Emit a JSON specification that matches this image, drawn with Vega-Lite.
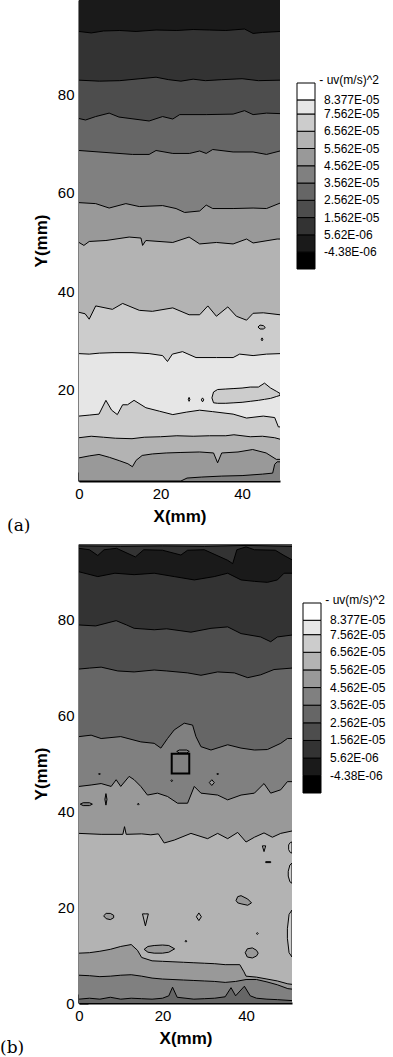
{
"$schema": "https://vega.github.io/schema/vega-lite/v6.json",
"padding": {"left": 0, "top": 0, "right": 0, "bottom": 0},
"spacing": 6,
"config": {
  "view": {"stroke": null},
  "font": "Liberation Sans",
  "axis": {"labelFont": "Liberation Sans", "labelFontSize": 15, "labelColor": "black", "titleFont": "Liberation Sans", "titleFontSize": 17, "titleFontWeight": "bold", "titleColor": "black", "domainColor": "black", "domainWidth": 2, "tickColor": "black", "grid": false}
},
"resolve": {"scale": {"color": "independent"}, "legend": {"color": "independent"}},
"datasets": {
"ca": [
{"c":"c00","x":0,"y":0,"uv":4.062e-5},{"c":"c00","x":49.3,"y":0,"uv":4.062e-5},
{"c":"c01","x":0,"y":1.4,"uv":5.062e-5},{"c":"c01","x":25,"y":1.4,"uv":5.062e-5},{"c":"c01","x":26.5,"y":2.0,"uv":5.062e-5},{"c":"c01","x":30,"y":2.2,"uv":5.062e-5},{"c":"c01","x":35,"y":2.4,"uv":5.062e-5},{"c":"c01","x":40,"y":2.5,"uv":5.062e-5},{"c":"c01","x":45,"y":2.8,"uv":5.062e-5},{"c":"c01","x":47.5,"y":3.0,"uv":5.062e-5},{"c":"c01","x":48,"y":4.8,"uv":5.062e-5},{"c":"c01","x":48.6,"y":5.3,"uv":5.062e-5},{"c":"c01","x":49.3,"y":5.3,"uv":5.062e-5},
{"c":"c02","x":0,"y":6.1,"uv":6.062e-5},{"c":"c02","x":2.5,"y":6.5,"uv":6.062e-5},{"c":"c02","x":4.9,"y":6.8,"uv":6.062e-5},{"c":"c02","x":7.5,"y":6.2,"uv":6.062e-5},{"c":"c02","x":10,"y":5.5,"uv":6.062e-5},{"c":"c02","x":12,"y":4.9,"uv":6.062e-5},{"c":"c02","x":13.1,"y":4.3,"uv":6.062e-5},{"c":"c02","x":14,"y":5.6,"uv":6.062e-5},{"c":"c02","x":15.5,"y":6.6,"uv":6.062e-5},{"c":"c02","x":18,"y":6.9,"uv":6.062e-5},{"c":"c02","x":21.4,"y":7.1,"uv":6.062e-5},{"c":"c02","x":25,"y":7.2,"uv":6.062e-5},{"c":"c02","x":29.6,"y":7.3,"uv":6.062e-5},{"c":"c02","x":33,"y":7.1,"uv":6.062e-5},{"c":"c02","x":34,"y":5.1,"uv":6.062e-5},{"c":"c02","x":35,"y":7.1,"uv":6.062e-5},{"c":"c02","x":39,"y":7.3,"uv":6.062e-5},{"c":"c02","x":42.6,"y":7.8,"uv":6.062e-5},{"c":"c02","x":45.9,"y":7.1,"uv":6.062e-5},{"c":"c02","x":48.4,"y":5.8,"uv":6.062e-5},{"c":"c02","x":49.3,"y":5.8,"uv":6.062e-5},
{"c":"c03","x":0,"y":10.2,"uv":7.062e-5},{"c":"c03","x":3,"y":10.5,"uv":7.062e-5},{"c":"c03","x":6,"y":10.3,"uv":7.062e-5},{"c":"c03","x":8.9,"y":10.1,"uv":7.062e-5},{"c":"c03","x":13,"y":10.0,"uv":7.062e-5},{"c":"c03","x":16,"y":10.3,"uv":7.062e-5},{"c":"c03","x":20,"y":10.4,"uv":7.062e-5},{"c":"c03","x":24,"y":10.6,"uv":7.062e-5},{"c":"c03","x":28,"y":10.5,"uv":7.062e-5},{"c":"c03","x":32,"y":10.6,"uv":7.062e-5},{"c":"c03","x":36,"y":10.6,"uv":7.062e-5},{"c":"c03","x":38,"y":10.8,"uv":7.062e-5},{"c":"c03","x":42,"y":10.4,"uv":7.062e-5},{"c":"c03","x":45,"y":10.5,"uv":7.062e-5},{"c":"c03","x":48,"y":10.2,"uv":7.062e-5},{"c":"c03","x":49.3,"y":9.9,"uv":7.062e-5},
{"c":"c04","x":0,"y":14.6,"uv":8.0e-5},{"c":"c04","x":2.5,"y":14.8,"uv":8.0e-5},{"c":"c04","x":4.9,"y":15.0,"uv":8.0e-5},{"c":"c04","x":6.6,"y":17.8,"uv":8.0e-5},{"c":"c04","x":8.0,"y":15.8,"uv":8.0e-5},{"c":"c04","x":9.4,"y":14.9,"uv":8.0e-5},{"c":"c04","x":10.7,"y":16.9,"uv":8.0e-5},{"c":"c04","x":11.9,"y":16.9,"uv":8.0e-5},{"c":"c04","x":13.5,"y":17.8,"uv":8.0e-5},{"c":"c04","x":16.4,"y":16.3,"uv":8.0e-5},{"c":"c04","x":19.7,"y":15.6,"uv":8.0e-5},{"c":"c04","x":23,"y":14.9,"uv":8.0e-5},{"c":"c04","x":26.3,"y":15.4,"uv":8.0e-5},{"c":"c04","x":29.6,"y":15.8,"uv":8.0e-5},{"c":"c04","x":32.8,"y":15.5,"uv":8.0e-5},{"c":"c04","x":37.8,"y":15.0,"uv":8.0e-5},{"c":"c04","x":41.1,"y":14.2,"uv":8.0e-5},{"c":"c04","x":45.2,"y":14.6,"uv":8.0e-5},{"c":"c04","x":48,"y":14.3,"uv":8.0e-5},{"c":"c04","x":48.9,"y":12.4,"uv":8.0e-5},{"c":"c04","x":49.3,"y":12.4,"uv":8.0e-5},
{"c":"c05","x":0,"y":27.3,"uv":7.062e-5},{"c":"c05","x":2.5,"y":27.2,"uv":7.062e-5},{"c":"c05","x":5,"y":27.4,"uv":7.062e-5},{"c":"c05","x":8.6,"y":27.5,"uv":7.062e-5},{"c":"c05","x":13,"y":27.5,"uv":7.062e-5},{"c":"c05","x":17.2,"y":27.3,"uv":7.062e-5},{"c":"c05","x":20.5,"y":26.9,"uv":7.062e-5},{"c":"c05","x":21.7,"y":25.7,"uv":7.062e-5},{"c":"c05","x":22.9,"y":27.2,"uv":7.062e-5},{"c":"c05","x":25.4,"y":27.7,"uv":7.062e-5},{"c":"c05","x":28.7,"y":26.5,"uv":7.062e-5},{"c":"c05","x":33.7,"y":26.5,"uv":7.062e-5},{"c":"c05","x":37.8,"y":26.5,"uv":7.062e-5},{"c":"c05","x":39.4,"y":27.2,"uv":7.062e-5},{"c":"c05","x":42.7,"y":26.9,"uv":7.062e-5},{"c":"c05","x":46,"y":27.2,"uv":7.062e-5},{"c":"c05","x":49.3,"y":27.3,"uv":7.062e-5},
{"c":"c06","x":0,"y":35.7,"uv":6.062e-5},{"c":"c06","x":1.5,"y":35.4,"uv":6.062e-5},{"c":"c06","x":2.5,"y":34.3,"uv":6.062e-5},{"c":"c06","x":4.1,"y":37.0,"uv":6.062e-5},{"c":"c06","x":8.2,"y":36.3,"uv":6.062e-5},{"c":"c06","x":10.7,"y":37.5,"uv":6.062e-5},{"c":"c06","x":14.8,"y":36.1,"uv":6.062e-5},{"c":"c06","x":18,"y":35.9,"uv":6.062e-5},{"c":"c06","x":23,"y":36.6,"uv":6.062e-5},{"c":"c06","x":27,"y":35.2,"uv":6.062e-5},{"c":"c06","x":29.6,"y":35.2,"uv":6.062e-5},{"c":"c06","x":31.6,"y":37.0,"uv":6.062e-5},{"c":"c06","x":33.7,"y":34.9,"uv":6.062e-5},{"c":"c06","x":36.5,"y":36.8,"uv":6.062e-5},{"c":"c06","x":38.6,"y":34.9,"uv":6.062e-5},{"c":"c06","x":41.1,"y":34.1,"uv":6.062e-5},{"c":"c06","x":42.7,"y":35.5,"uv":6.062e-5},{"c":"c06","x":45.2,"y":35.6,"uv":6.062e-5},{"c":"c06","x":49.3,"y":35.2,"uv":6.062e-5},
{"c":"c07","x":0,"y":49.9,"uv":5.062e-5},{"c":"c07","x":1.2,"y":49.3,"uv":5.062e-5},{"c":"c07","x":2.5,"y":50.1,"uv":5.062e-5},{"c":"c07","x":6.6,"y":50.3,"uv":5.062e-5},{"c":"c07","x":12.3,"y":51.0,"uv":5.062e-5},{"c":"c07","x":15.2,"y":50.8,"uv":5.062e-5},{"c":"c07","x":15.6,"y":49.3,"uv":5.062e-5},{"c":"c07","x":16.4,"y":50.3,"uv":5.062e-5},{"c":"c07","x":23,"y":49.9,"uv":5.062e-5},{"c":"c07","x":27,"y":51.0,"uv":5.062e-5},{"c":"c07","x":29.6,"y":49.6,"uv":5.062e-5},{"c":"c07","x":33.7,"y":49.9,"uv":5.062e-5},{"c":"c07","x":37.8,"y":49.6,"uv":5.062e-5},{"c":"c07","x":41.1,"y":50.6,"uv":5.062e-5},{"c":"c07","x":42.7,"y":49.8,"uv":5.062e-5},{"c":"c07","x":48.6,"y":50.6,"uv":5.062e-5},{"c":"c07","x":49.3,"y":50.6,"uv":5.062e-5},
{"c":"c08","x":0,"y":58.0,"uv":4.062e-5},{"c":"c08","x":4.1,"y":57.8,"uv":4.062e-5},{"c":"c08","x":7.4,"y":56.9,"uv":4.062e-5},{"c":"c08","x":11.5,"y":57.8,"uv":4.062e-5},{"c":"c08","x":14.8,"y":57.2,"uv":4.062e-5},{"c":"c08","x":20.5,"y":57.4,"uv":4.062e-5},{"c":"c08","x":23.8,"y":56.8,"uv":4.062e-5},{"c":"c08","x":25.9,"y":56.0,"uv":4.062e-5},{"c":"c08","x":29.6,"y":56.3,"uv":4.062e-5},{"c":"c08","x":31.2,"y":57.5,"uv":4.062e-5},{"c":"c08","x":32.8,"y":56.8,"uv":4.062e-5},{"c":"c08","x":37.8,"y":56.8,"uv":4.062e-5},{"c":"c08","x":42.7,"y":56.9,"uv":4.062e-5},{"c":"c08","x":46,"y":56.8,"uv":4.062e-5},{"c":"c08","x":49.3,"y":57.9,"uv":4.062e-5},
{"c":"c09","x":0,"y":68.6,"uv":3.062e-5},{"c":"c09","x":4.9,"y":68.3,"uv":3.062e-5},{"c":"c09","x":13.1,"y":67.8,"uv":3.062e-5},{"c":"c09","x":17.2,"y":67.8,"uv":3.062e-5},{"c":"c09","x":18.9,"y":68.6,"uv":3.062e-5},{"c":"c09","x":23,"y":68.0,"uv":3.062e-5},{"c":"c09","x":27.1,"y":68.0,"uv":3.062e-5},{"c":"c09","x":29.6,"y":68.5,"uv":3.062e-5},{"c":"c09","x":31.2,"y":68.0,"uv":3.062e-5},{"c":"c09","x":32.8,"y":68.8,"uv":3.062e-5},{"c":"c09","x":37.8,"y":68.3,"uv":3.062e-5},{"c":"c09","x":42.7,"y":68.3,"uv":3.062e-5},{"c":"c09","x":46,"y":67.8,"uv":3.062e-5},{"c":"c09","x":49.3,"y":68.5,"uv":3.062e-5},
{"c":"c10","x":0,"y":75.1,"uv":2.062e-5},{"c":"c10","x":1.6,"y":74.8,"uv":2.062e-5},{"c":"c10","x":4.1,"y":75.5,"uv":2.062e-5},{"c":"c10","x":7.4,"y":76.2,"uv":2.062e-5},{"c":"c10","x":9.8,"y":75.4,"uv":2.062e-5},{"c":"c10","x":17.2,"y":74.6,"uv":2.062e-5},{"c":"c10","x":20.5,"y":75.5,"uv":2.062e-5},{"c":"c10","x":23,"y":75.0,"uv":2.062e-5},{"c":"c10","x":24.7,"y":75.9,"uv":2.062e-5},{"c":"c10","x":31.2,"y":75.9,"uv":2.062e-5},{"c":"c10","x":37.8,"y":76.0,"uv":2.062e-5},{"c":"c10","x":40.6,"y":76.7,"uv":2.062e-5},{"c":"c10","x":42.7,"y":75.9,"uv":2.062e-5},{"c":"c10","x":46,"y":76.2,"uv":2.062e-5},{"c":"c10","x":49.3,"y":76.1,"uv":2.062e-5},
{"c":"c11","x":0,"y":82.9,"uv":1.062e-5},{"c":"c11","x":5,"y":82.7,"uv":1.062e-5},{"c":"c11","x":10,"y":82.8,"uv":1.062e-5},{"c":"c11","x":15,"y":83.2,"uv":1.062e-5},{"c":"c11","x":18.9,"y":83.5,"uv":1.062e-5},{"c":"c11","x":22,"y":83.0,"uv":1.062e-5},{"c":"c11","x":25,"y":82.7,"uv":1.062e-5},{"c":"c11","x":28,"y":83.1,"uv":1.062e-5},{"c":"c11","x":31,"y":82.8,"uv":1.062e-5},{"c":"c11","x":35,"y":83.0,"uv":1.062e-5},{"c":"c11","x":40,"y":83.2,"uv":1.062e-5},{"c":"c11","x":44,"y":82.8,"uv":1.062e-5},{"c":"c11","x":49.3,"y":82.9,"uv":1.062e-5},
{"c":"c12","x":0,"y":92.8,"uv":6.2e-7},{"c":"c12","x":3,"y":92.5,"uv":6.2e-7},{"c":"c12","x":6,"y":92.9,"uv":6.2e-7},{"c":"c12","x":10,"y":93.0,"uv":6.2e-7},{"c":"c12","x":14,"y":92.8,"uv":6.2e-7},{"c":"c12","x":18.9,"y":93.1,"uv":6.2e-7},{"c":"c12","x":24,"y":93.0,"uv":6.2e-7},{"c":"c12","x":28,"y":93.2,"uv":6.2e-7},{"c":"c12","x":32,"y":93.1,"uv":6.2e-7},{"c":"c12","x":36,"y":93.0,"uv":6.2e-7},{"c":"c12","x":40.6,"y":93.3,"uv":6.2e-7},{"c":"c12","x":42.7,"y":92.4,"uv":6.2e-7},{"c":"c12","x":45,"y":92.6,"uv":6.2e-7},{"c":"c12","x":49.3,"y":92.8,"uv":6.2e-7}
],
"ia": [
{"i":"i1","x":32.6,"y":18.3,"y2":18.3,"uv":7.062e-5},{"i":"i1","x":33,"y":17.3,"y2":19.5,"uv":7.062e-5},{"i":"i1","x":34,"y":17.2,"y2":20.0,"uv":7.062e-5},{"i":"i1","x":36,"y":17.2,"y2":20.1,"uv":7.062e-5},{"i":"i1","x":38,"y":17.3,"y2":20.2,"uv":7.062e-5},{"i":"i1","x":40,"y":17.4,"y2":20.3,"uv":7.062e-5},{"i":"i1","x":42,"y":17.6,"y2":20.5,"uv":7.062e-5},{"i":"i1","x":44,"y":17.8,"y2":20.5,"uv":7.062e-5},{"i":"i1","x":45.5,"y":18.0,"y2":21.3,"uv":7.062e-5},{"i":"i1","x":47,"y":18.2,"y2":20.3,"uv":7.062e-5},{"i":"i1","x":48.5,"y":18.6,"y2":19.6,"uv":7.062e-5},{"i":"i1","x":49.3,"y":18.8,"y2":19.2,"uv":7.062e-5},
{"i":"i2","x":43.9,"y":32.7,"y2":32.7,"uv":6.062e-5},{"i":"i2","x":44.4,"y":32.3,"y2":33.1,"uv":6.062e-5},{"i":"i2","x":45.2,"y":32.3,"y2":33.0,"uv":6.062e-5},{"i":"i2","x":45.7,"y":32.6,"y2":32.6,"uv":6.062e-5},
{"i":"i3","x":44.7,"y":30.2,"y2":30.2,"uv":6.062e-5},{"i":"i3","x":44.9,"y":29.9,"y2":30.5,"uv":6.062e-5},{"i":"i3","x":45.1,"y":30.2,"y2":30.2,"uv":6.062e-5},
{"i":"i4","x":26.8,"y":18,"y2":18,"uv":7.062e-5},{"i":"i4","x":27,"y":17.6,"y2":18.4,"uv":7.062e-5},{"i":"i4","x":27.2,"y":18,"y2":18,"uv":7.062e-5},
{"i":"i5","x":30.0,"y":17.9,"y2":17.9,"uv":7.062e-5},{"i":"i5","x":30.3,"y":17.5,"y2":18.3,"uv":7.062e-5},{"i":"i5","x":30.6,"y":17.9,"y2":17.9,"uv":7.062e-5}
],
"cb": [
{"c":"c00","x":0,"y":0,"uv":3.062e-5},{"c":"c00","x":51,"y":0,"uv":3.062e-5},
{"c":"c01","x":0,"y":0.8,"uv":4.062e-5},{"c":"c01","x":2.5,"y":1.0,"uv":4.062e-5},{"c":"c01","x":5,"y":0.8,"uv":4.062e-5},{"c":"c01","x":7.5,"y":1.2,"uv":4.062e-5},{"c":"c01","x":10,"y":0.8,"uv":4.062e-5},{"c":"c01","x":12.5,"y":1.0,"uv":4.062e-5},{"c":"c01","x":15,"y":0.9,"uv":4.062e-5},{"c":"c01","x":17.5,"y":0.8,"uv":4.062e-5},{"c":"c01","x":20,"y":1.0,"uv":4.062e-5},{"c":"c01","x":21.5,"y":1.5,"uv":4.062e-5},{"c":"c01","x":22.4,"y":3.3,"uv":4.062e-5},{"c":"c01","x":23.5,"y":1.2,"uv":4.062e-5},{"c":"c01","x":27.5,"y":0.8,"uv":4.062e-5},{"c":"c01","x":30,"y":0.9,"uv":4.062e-5},{"c":"c01","x":32.5,"y":1.0,"uv":4.062e-5},{"c":"c01","x":35,"y":1.3,"uv":4.062e-5},{"c":"c01","x":36.4,"y":3.2,"uv":4.062e-5},{"c":"c01","x":37.5,"y":1.5,"uv":4.062e-5},{"c":"c01","x":39.6,"y":3.5,"uv":4.062e-5},{"c":"c01","x":41,"y":1.5,"uv":4.062e-5},{"c":"c01","x":42.5,"y":1.0,"uv":4.062e-5},{"c":"c01","x":45,"y":0.8,"uv":4.062e-5},{"c":"c01","x":47.5,"y":0.7,"uv":4.062e-5},{"c":"c01","x":51,"y":0.5,"uv":4.062e-5},
{"c":"c02","x":0,"y":5.8,"uv":5.062e-5},{"c":"c02","x":2.5,"y":5.7,"uv":5.062e-5},{"c":"c02","x":5,"y":5.5,"uv":5.062e-5},{"c":"c02","x":7.5,"y":5.6,"uv":5.062e-5},{"c":"c02","x":10,"y":5.8,"uv":5.062e-5},{"c":"c02","x":12.5,"y":5.9,"uv":5.062e-5},{"c":"c02","x":15,"y":5.6,"uv":5.062e-5},{"c":"c02","x":17.5,"y":5.2,"uv":5.062e-5},{"c":"c02","x":20,"y":5.0,"uv":5.062e-5},{"c":"c02","x":22.5,"y":4.9,"uv":5.062e-5},{"c":"c02","x":25,"y":4.8,"uv":5.062e-5},{"c":"c02","x":27.5,"y":4.7,"uv":5.062e-5},{"c":"c02","x":30,"y":4.6,"uv":5.062e-5},{"c":"c02","x":32.5,"y":4.5,"uv":5.062e-5},{"c":"c02","x":35,"y":4.3,"uv":5.062e-5},{"c":"c02","x":37.5,"y":4.5,"uv":5.062e-5},{"c":"c02","x":40,"y":4.9,"uv":5.062e-5},{"c":"c02","x":42.5,"y":4.9,"uv":5.062e-5},{"c":"c02","x":45,"y":4.4,"uv":5.062e-5},{"c":"c02","x":47.5,"y":3.8,"uv":5.062e-5},{"c":"c02","x":50,"y":3.0,"uv":5.062e-5},{"c":"c02","x":51,"y":2.9,"uv":5.062e-5},
{"c":"c03","x":0,"y":10.4,"uv":6.062e-5},{"c":"c03","x":2.5,"y":10.5,"uv":6.062e-5},{"c":"c03","x":5,"y":10.8,"uv":6.062e-5},{"c":"c03","x":7.5,"y":11.2,"uv":6.062e-5},{"c":"c03","x":10,"y":11.8,"uv":6.062e-5},{"c":"c03","x":12.5,"y":12.2,"uv":6.062e-5},{"c":"c03","x":14,"y":11.0,"uv":6.062e-5},{"c":"c03","x":15,"y":9.5,"uv":6.062e-5},{"c":"c03","x":17.5,"y":8.8,"uv":6.062e-5},{"c":"c03","x":20,"y":8.7,"uv":6.062e-5},{"c":"c03","x":22.5,"y":8.6,"uv":6.062e-5},{"c":"c03","x":25,"y":8.5,"uv":6.062e-5},{"c":"c03","x":27.5,"y":8.4,"uv":6.062e-5},{"c":"c03","x":30,"y":8.3,"uv":6.062e-5},{"c":"c03","x":32.5,"y":8.2,"uv":6.062e-5},{"c":"c03","x":35,"y":8.0,"uv":6.062e-5},{"c":"c03","x":38.5,"y":8.0,"uv":6.062e-5},{"c":"c03","x":39.5,"y":6.5,"uv":6.062e-5},{"c":"c03","x":40,"y":5.6,"uv":6.062e-5},{"c":"c03","x":42.5,"y":5.4,"uv":6.062e-5},{"c":"c03","x":45,"y":5.0,"uv":6.062e-5},{"c":"c03","x":47.5,"y":4.6,"uv":6.062e-5},{"c":"c03","x":50,"y":4.0,"uv":6.062e-5},{"c":"c03","x":51,"y":3.9,"uv":6.062e-5},
{"c":"c04","x":0,"y":35.4,"uv":5.062e-5},{"c":"c04","x":5.3,"y":35.2,"uv":5.062e-5},{"c":"c04","x":10.5,"y":35.2,"uv":5.062e-5},{"c":"c04","x":10.9,"y":36.8,"uv":5.062e-5},{"c":"c04","x":11.3,"y":35.2,"uv":5.062e-5},{"c":"c04","x":15,"y":35.3,"uv":5.062e-5},{"c":"c04","x":17.2,"y":35.1,"uv":5.062e-5},{"c":"c04","x":19,"y":35.3,"uv":5.062e-5},{"c":"c04","x":20.4,"y":33.4,"uv":5.062e-5},{"c":"c04","x":22.8,"y":34.0,"uv":5.062e-5},{"c":"c04","x":26.8,"y":35.4,"uv":5.062e-5},{"c":"c04","x":30.8,"y":34.3,"uv":5.062e-5},{"c":"c04","x":33.2,"y":35.4,"uv":5.062e-5},{"c":"c04","x":35.6,"y":34.3,"uv":5.062e-5},{"c":"c04","x":38,"y":35.6,"uv":5.062e-5},{"c":"c04","x":40,"y":33.6,"uv":5.062e-5},{"c":"c04","x":42,"y":34.6,"uv":5.062e-5},{"c":"c04","x":44.3,"y":35.5,"uv":5.062e-5},{"c":"c04","x":46.3,"y":34.6,"uv":5.062e-5},{"c":"c04","x":48.3,"y":35.4,"uv":5.062e-5},{"c":"c04","x":51,"y":35.9,"uv":5.062e-5},
{"c":"c05","x":0,"y":45.2,"uv":4.062e-5},{"c":"c05","x":2.9,"y":45.5,"uv":4.062e-5},{"c":"c05","x":5.3,"y":45.8,"uv":4.062e-5},{"c":"c05","x":7.7,"y":45.2,"uv":4.062e-5},{"c":"c05","x":8.9,"y":46.6,"uv":4.062e-5},{"c":"c05","x":10,"y":45.2,"uv":4.062e-5},{"c":"c05","x":12,"y":47.3,"uv":4.062e-5},{"c":"c05","x":13.2,"y":46.6,"uv":4.062e-5},{"c":"c05","x":14.8,"y":45.2,"uv":4.062e-5},{"c":"c05","x":16.4,"y":43.4,"uv":4.062e-5},{"c":"c05","x":18.8,"y":43.8,"uv":4.062e-5},{"c":"c05","x":21.2,"y":43.1,"uv":4.062e-5},{"c":"c05","x":23.6,"y":41.7,"uv":4.062e-5},{"c":"c05","x":26,"y":41.7,"uv":4.062e-5},{"c":"c05","x":27.6,"y":45.2,"uv":4.062e-5},{"c":"c05","x":29.2,"y":43.8,"uv":4.062e-5},{"c":"c05","x":33.2,"y":43.4,"uv":4.062e-5},{"c":"c05","x":35.6,"y":42.4,"uv":4.062e-5},{"c":"c05","x":38.8,"y":43.4,"uv":4.062e-5},{"c":"c05","x":42,"y":43.8,"uv":4.062e-5},{"c":"c05","x":44.3,"y":45.8,"uv":4.062e-5},{"c":"c05","x":45.9,"y":43.8,"uv":4.062e-5},{"c":"c05","x":48.3,"y":44.5,"uv":4.062e-5},{"c":"c05","x":49.9,"y":46.2,"uv":4.062e-5},{"c":"c05","x":51,"y":46.2,"uv":4.062e-5},
{"c":"c06","x":0,"y":55.6,"uv":3.062e-5},{"c":"c06","x":2.9,"y":55.9,"uv":3.062e-5},{"c":"c06","x":5.3,"y":55.2,"uv":3.062e-5},{"c":"c06","x":10,"y":55.6,"uv":3.062e-5},{"c":"c06","x":14.8,"y":54.5,"uv":3.062e-5},{"c":"c06","x":18,"y":54.2,"uv":3.062e-5},{"c":"c06","x":19.6,"y":53.2,"uv":3.062e-5},{"c":"c06","x":21.2,"y":55.2,"uv":3.062e-5},{"c":"c06","x":22.8,"y":57.0,"uv":3.062e-5},{"c":"c06","x":25.2,"y":58.4,"uv":3.062e-5},{"c":"c06","x":27.2,"y":58.0,"uv":3.062e-5},{"c":"c06","x":28,"y":55.6,"uv":3.062e-5},{"c":"c06","x":29.2,"y":53.5,"uv":3.062e-5},{"c":"c06","x":31.6,"y":52.8,"uv":3.062e-5},{"c":"c06","x":35.6,"y":53.9,"uv":3.062e-5},{"c":"c06","x":38.8,"y":53.2,"uv":3.062e-5},{"c":"c06","x":42,"y":52.8,"uv":3.062e-5},{"c":"c06","x":45.1,"y":52.9,"uv":3.062e-5},{"c":"c06","x":48.3,"y":54.2,"uv":3.062e-5},{"c":"c06","x":49.9,"y":55.2,"uv":3.062e-5},{"c":"c06","x":51,"y":55.2,"uv":3.062e-5},
{"c":"c07","x":0,"y":69.7,"uv":2.062e-5},{"c":"c07","x":2.5,"y":69.9,"uv":2.062e-5},{"c":"c07","x":5.3,"y":70.1,"uv":2.062e-5},{"c":"c07","x":9.3,"y":69.3,"uv":2.062e-5},{"c":"c07","x":13.2,"y":69.1,"uv":2.062e-5},{"c":"c07","x":18,"y":69.5,"uv":2.062e-5},{"c":"c07","x":21,"y":69.3,"uv":2.062e-5},{"c":"c07","x":26,"y":68.9,"uv":2.062e-5},{"c":"c07","x":29.2,"y":68.4,"uv":2.062e-5},{"c":"c07","x":33.2,"y":69.1,"uv":2.062e-5},{"c":"c07","x":37.2,"y":68.9,"uv":2.062e-5},{"c":"c07","x":40.4,"y":67.9,"uv":2.062e-5},{"c":"c07","x":43.5,"y":68.5,"uv":2.062e-5},{"c":"c07","x":46.7,"y":69.6,"uv":2.062e-5},{"c":"c07","x":51,"y":69.9,"uv":2.062e-5},
{"c":"c08","x":0,"y":78.9,"uv":1.062e-5},{"c":"c08","x":4,"y":78.7,"uv":1.062e-5},{"c":"c08","x":8.9,"y":79.8,"uv":1.062e-5},{"c":"c08","x":11.4,"y":78.9,"uv":1.062e-5},{"c":"c08","x":13.2,"y":78.2,"uv":1.062e-5},{"c":"c08","x":18,"y":77.9,"uv":1.062e-5},{"c":"c08","x":21,"y":78.1,"uv":1.062e-5},{"c":"c08","x":26.8,"y":77.4,"uv":1.062e-5},{"c":"c08","x":31.6,"y":78.2,"uv":1.062e-5},{"c":"c08","x":35.6,"y":78.5,"uv":1.062e-5},{"c":"c08","x":38.8,"y":77.1,"uv":1.062e-5},{"c":"c08","x":43.5,"y":76.4,"uv":1.062e-5},{"c":"c08","x":45.9,"y":75.4,"uv":1.062e-5},{"c":"c08","x":47.5,"y":76.4,"uv":1.062e-5},{"c":"c08","x":51,"y":76.8,"uv":1.062e-5},
{"c":"c09","x":0,"y":90.0,"uv":6.2e-7},{"c":"c09","x":4.5,"y":89.0,"uv":6.2e-7},{"c":"c09","x":8.6,"y":89.7,"uv":6.2e-7},{"c":"c09","x":13.2,"y":89.4,"uv":6.2e-7},{"c":"c09","x":18,"y":89.7,"uv":6.2e-7},{"c":"c09","x":22.8,"y":89.0,"uv":6.2e-7},{"c":"c09","x":27.6,"y":88.3,"uv":6.2e-7},{"c":"c09","x":32.4,"y":89.0,"uv":6.2e-7},{"c":"c09","x":35.6,"y":89.7,"uv":6.2e-7},{"c":"c09","x":38.8,"y":88.3,"uv":6.2e-7},{"c":"c09","x":42,"y":88.0,"uv":6.2e-7},{"c":"c09","x":45.1,"y":87.8,"uv":6.2e-7},{"c":"c09","x":47.5,"y":88.3,"uv":6.2e-7},{"c":"c09","x":49.1,"y":89.7,"uv":6.2e-7},{"c":"c09","x":51,"y":89.7,"uv":6.2e-7},
{"c":"c10","x":0,"y":94.9,"uv":1.062e-5},{"c":"c10","x":2.5,"y":94.6,"uv":1.062e-5},{"c":"c10","x":4.5,"y":93.4,"uv":1.062e-5},{"c":"c10","x":6,"y":94.6,"uv":1.062e-5},{"c":"c10","x":9,"y":94.9,"uv":1.062e-5},{"c":"c10","x":13.5,"y":93.1,"uv":1.062e-5},{"c":"c10","x":15.5,"y":94.6,"uv":1.062e-5},{"c":"c10","x":20,"y":94.5,"uv":1.062e-5},{"c":"c10","x":24.4,"y":93.5,"uv":1.062e-5},{"c":"c10","x":26,"y":94.5,"uv":1.062e-5},{"c":"c10","x":30,"y":94.6,"uv":1.062e-5},{"c":"c10","x":35.6,"y":92.4,"uv":1.062e-5},{"c":"c10","x":36.8,"y":91.7,"uv":1.062e-5},{"c":"c10","x":37.8,"y":94.6,"uv":1.062e-5},{"c":"c10","x":40,"y":95.2,"uv":1.062e-5},{"c":"c10","x":42,"y":94.6,"uv":1.062e-5},{"c":"c10","x":47,"y":94.5,"uv":1.062e-5},{"c":"c10","x":49.1,"y":93.4,"uv":1.062e-5},{"c":"c10","x":51,"y":92.5,"uv":1.062e-5},
{"c":"c11","x":0,"y":95.4,"uv":2.062e-5},{"c":"c11","x":10,"y":95.3,"uv":2.062e-5},{"c":"c11","x":20,"y":95.4,"uv":2.062e-5},{"c":"c11","x":30,"y":95.3,"uv":2.062e-5},{"c":"c11","x":40,"y":95.5,"uv":2.062e-5},{"c":"c11","x":51,"y":95.3,"uv":2.062e-5}
],
"ib": [
{"i":"j01","x":15.6,"y":11.2,"y2":11.2,"uv":5.062e-5},{"i":"j01","x":16.5,"y":10.6,"y2":11.8,"uv":5.062e-5},{"i":"j01","x":18,"y":10.4,"y2":12.0,"uv":5.062e-5},{"i":"j01","x":20,"y":10.4,"y2":12.1,"uv":5.062e-5},{"i":"j01","x":21.5,"y":10.6,"y2":12.0,"uv":5.062e-5},{"i":"j01","x":22.9,"y":11.3,"y2":11.3,"uv":5.062e-5},
{"i":"j02","x":37.6,"y":21.4,"y2":21.4,"uv":5.062e-5},{"i":"j02","x":38,"y":20.9,"y2":22.2,"uv":5.062e-5},{"i":"j02","x":38.8,"y":20.7,"y2":22.4,"uv":5.062e-5},{"i":"j02","x":40.4,"y":20.4,"y2":21.7,"uv":5.062e-5},{"i":"j02","x":41.3,"y":20.9,"y2":20.9,"uv":5.062e-5},
{"i":"j03","x":5.9,"y":18.2,"y2":18.2,"uv":5.062e-5},{"i":"j03","x":6.5,"y":17.6,"y2":18.7,"uv":5.062e-5},{"i":"j03","x":7.5,"y":17.4,"y2":18.7,"uv":5.062e-5},{"i":"j03","x":8.3,"y":17.8,"y2":18.3,"uv":5.062e-5},
{"i":"j04","x":15.2,"y":18.6,"y2":18.6,"uv":6.062e-5},{"i":"j04","x":15.9,"y":16.1,"y2":18.6,"uv":6.062e-5},{"i":"j04","x":16.6,"y":18.6,"y2":18.6,"uv":6.062e-5},
{"i":"j05","x":28.1,"y":18.0,"y2":18.0,"uv":6.062e-5},{"i":"j05","x":28.7,"y":17.2,"y2":18.8,"uv":6.062e-5},{"i":"j05","x":29.3,"y":18.0,"y2":18.0,"uv":6.062e-5},
{"i":"j06","x":43.9,"y":32.8,"y2":32.8,"uv":6.062e-5},{"i":"j06","x":44.3,"y":31.6,"y2":32.8,"uv":6.062e-5},{"i":"j06","x":44.7,"y":32.8,"y2":32.8,"uv":6.062e-5},
{"i":"j07","x":44.7,"y":29.3,"y2":29.5,"uv":5.062e-5},{"i":"j07","x":45.9,"y":29.3,"y2":29.5,"uv":5.062e-5},
{"i":"j08","x":39.8,"y":10.5,"y2":10.5,"uv":5.062e-5},{"i":"j08","x":40.3,"y":9.6,"y2":11.3,"uv":5.062e-5},{"i":"j08","x":41.5,"y":9.4,"y2":11.5,"uv":5.062e-5},{"i":"j08","x":42.5,"y":9.8,"y2":11.0,"uv":5.062e-5},{"i":"j08","x":42.9,"y":10.4,"y2":10.4,"uv":5.062e-5},
{"i":"j09","x":49.9,"y":13.5,"y2":15.5,"uv":7.062e-5},{"i":"j09","x":50.3,"y":10.5,"y2":18.5,"uv":7.062e-5},{"i":"j09","x":51,"y":9.6,"y2":19.4,"uv":7.062e-5},
{"i":"j10","x":50.1,"y":26.5,"y2":27.5,"uv":7.062e-5},{"i":"j10","x":50.5,"y":25.3,"y2":28.8,"uv":7.062e-5},{"i":"j10","x":51,"y":25.0,"y2":29.2,"uv":7.062e-5},
{"i":"j11","x":50.2,"y":32.0,"y2":33.0,"uv":7.062e-5},{"i":"j11","x":50.6,"y":31.4,"y2":33.5,"uv":7.062e-5},{"i":"j11","x":51,"y":31.3,"y2":33.6,"uv":7.062e-5},
{"i":"j12","x":0.3,"y":41.5,"y2":41.5,"uv":4.062e-5},{"i":"j12","x":1,"y":41.2,"y2":41.8,"uv":4.062e-5},{"i":"j12","x":2.5,"y":41.2,"y2":41.8,"uv":4.062e-5},{"i":"j12","x":3.2,"y":41.5,"y2":41.5,"uv":4.062e-5},
{"i":"j13","x":6.2,"y":42.5,"y2":42.5,"uv":4.062e-5},{"i":"j13","x":6.45,"y":41.3,"y2":43.7,"uv":4.062e-5},{"i":"j13","x":6.7,"y":42.5,"y2":42.5,"uv":4.062e-5},
{"i":"j14","x":23.4,"y":52.5,"y2":52.5,"uv":4.062e-5},{"i":"j14","x":24,"y":52.2,"y2":52.8,"uv":4.062e-5},{"i":"j14","x":25.8,"y":52.2,"y2":52.8,"uv":4.062e-5},{"i":"j14","x":26.4,"y":52.5,"y2":52.5,"uv":4.062e-5},
{"i":"j15","x":31.2,"y":46.0,"y2":46.0,"uv":5.062e-5},{"i":"j15","x":31.8,"y":45.4,"y2":46.6,"uv":5.062e-5},{"i":"j15","x":32.4,"y":46.0,"y2":46.0,"uv":5.062e-5},
{"i":"j16","x":4.7,"y":47.8,"y2":47.8,"uv":4.062e-5},{"i":"j16","x":4.9,"y":47.6,"y2":48.0,"uv":4.062e-5},{"i":"j16","x":5.1,"y":47.8,"y2":47.8,"uv":4.062e-5},
{"i":"j17","x":22.0,"y":46.4,"y2":46.4,"uv":4.062e-5},{"i":"j17","x":22.2,"y":46.2,"y2":46.6,"uv":4.062e-5},{"i":"j17","x":22.4,"y":46.4,"y2":46.4,"uv":4.062e-5},
{"i":"j18","x":33.0,"y":47.8,"y2":47.8,"uv":4.062e-5},{"i":"j18","x":33.2,"y":47.6,"y2":48.0,"uv":4.062e-5},{"i":"j18","x":33.4,"y":47.8,"y2":47.8,"uv":4.062e-5},
{"i":"j19","x":25.4,"y":12.9,"y2":12.9,"uv":6.062e-5},{"i":"j19","x":25.6,"y":12.7,"y2":13.1,"uv":6.062e-5},{"i":"j19","x":25.8,"y":12.9,"y2":12.9,"uv":6.062e-5},
{"i":"j20","x":42.5,"y":14.5,"y2":14.5,"uv":6.062e-5},{"i":"j20","x":42.7,"y":14.3,"y2":14.7,"uv":6.062e-5},{"i":"j20","x":42.9,"y":14.5,"y2":14.5,"uv":6.062e-5},
{"i":"j21","x":14.0,"y":41.5,"y2":41.5,"uv":5.062e-5},{"i":"j21","x":14.2,"y":41.3,"y2":41.7,"uv":5.062e-5},{"i":"j21","x":14.4,"y":41.5,"y2":41.5,"uv":5.062e-5}
],
"sq": [{"x":22.2,"x2":26.4,"y":47.9,"y2":52.0}]
},
"vconcat": [
{
  "width": 201, "height": 481,
  "title": {"text": "(a)", "orient": "bottom", "anchor": "start", "frame": "group", "dx": -72, "offset": -6, "font": "DejaVu Serif", "fontSize": 17, "fontWeight": "normal", "color": "black"},
  "encoding": {
    "x": {"field": "x", "type": "quantitative", "scale": {"domain": [0, 49.3], "nice": false, "zero": false},
      "axis": {"title": "X(mm)", "values": [0,5,10,15,20,25,30,35,40,45], "labelExpr": "datum.value % 20 === 0 ? datum.label : ''", "tickSize": {"condition": {"test": "datum.value % 20 === 0", "value": -9}, "value": -5}, "tickWidth": {"condition": {"test": "datum.value % 20 === 0", "value": 2}, "value": 1}, "labelPadding": 14, "titlePadding": 3, "labelFlush": false, "labelOverlap": false}},
    "y": {"field": "y", "type": "quantitative", "stack": null, "scale": {"domain": [1.4, 99.2], "nice": false, "zero": false},
      "axis": {"title": "Y(mm)", "values": [5,10,15,20,25,30,35,40,45,50,55,60,65,70,75,80,85,90,95], "labelExpr": "datum.value % 20 === 0 ? datum.label : ''", "tickSize": {"condition": {"test": "datum.value % 20 === 0", "value": -9}, "value": -5}, "tickWidth": {"condition": {"test": "datum.value % 20 === 0", "value": 2}, "value": 1}, "labelPadding": 14, "titlePadding": 7, "labelFlush": false, "labelOverlap": false}},
    "color": {"field": "uv", "type": "quantitative",
      "scale": {"type": "threshold", "domain": [-4.38e-6, 5.62e-6, 1.562e-5, 2.562e-5, 3.562e-5, 4.562e-5, 5.562e-5, 6.562e-5, 7.562e-5, 8.377e-5], "range": ["#000000","#1a1a1a","#333333","#4d4d4d","#666666","#808080","#999999","#b3b3b3","#cccccc","#e6e6e6","#ffffff"]},
      "legend": {"type": "gradient", "title": "- uv(m/s)^2", "orient": "none", "legendX": 218, "legendY": 75, "direction": "vertical", "gradientLength": 186, "gradientThickness": 18, "gradientStrokeColor": "black", "gradientStrokeWidth": 1, "labelExpr": "isFinite(datum.value) ? replace(replace(format(datum.value, '.4~e'), 'e-', 'E-0'), '\u2212', '-') : ''", "labelFont": "Liberation Sans", "labelFontSize": 12, "labelColor": "black", "labelOffset": 9, "labelOverlap": false, "titleFont": "Liberation Sans", "titleFontSize": 12, "titleFontWeight": "normal", "titleColor": "black", "titleAnchor": "end", "titlePadding": -4}}
  },
  "layer": [
    {"data": {"name": "ca"}, "mark": {"type": "area", "clip": true}, "encoding": {"y2": {"datum": 100}, "detail": {"field": "c"}}},
    {"data": {"name": "ca"}, "transform": [{"filter": "datum.c != 'c00'"}], "mark": {"type": "line", "clip": true, "strokeWidth": 1}, "encoding": {"color": {"value": "black"}, "detail": {"field": "c"}}},
    {"data": {"name": "ia"}, "mark": {"type": "area", "clip": true, "stroke": "black", "strokeWidth": 1}, "encoding": {"y2": {"field": "y2"}, "detail": {"field": "i"}}}
  ]
},
{
  "width": 213, "height": 459,
  "title": {"text": "(b)", "orient": "bottom", "anchor": "start", "frame": "group", "dx": -79, "offset": -6, "font": "DejaVu Serif", "fontSize": 17, "fontWeight": "normal", "color": "black"},
  "encoding": {
    "x": {"field": "x", "type": "quantitative", "scale": {"domain": [0, 51], "nice": false, "zero": false},
      "axis": {"title": "X(mm)", "values": [0,5,10,15,20,25,30,35,40,45,50], "labelExpr": "datum.value % 20 === 0 ? datum.label : ''", "tickSize": {"condition": {"test": "datum.value % 20 === 0", "value": -9}, "value": -5}, "tickWidth": {"condition": {"test": "datum.value % 20 === 0", "value": 2}, "value": 1}, "labelPadding": 14, "titlePadding": 3, "labelFlush": false, "labelOverlap": false}},
    "y": {"field": "y", "type": "quantitative", "stack": null, "scale": {"domain": [0, 95.8], "nice": false, "zero": false},
      "axis": {"title": "Y(mm)", "values": [0,5,10,15,20,25,30,35,40,45,50,55,60,65,70,75,80,85,90,95], "labelExpr": "datum.value % 20 === 0 ? datum.label : ''", "tickSize": {"condition": {"test": "datum.value % 20 === 0", "value": -9}, "value": -5}, "tickWidth": {"condition": {"test": "datum.value % 20 === 0", "value": 2}, "value": 1}, "labelPadding": 14, "titlePadding": 7, "labelFlush": false, "labelOverlap": false}},
    "color": {"field": "uv", "type": "quantitative",
      "scale": {"type": "threshold", "domain": [-4.38e-6, 5.62e-6, 1.562e-5, 2.562e-5, 3.562e-5, 4.562e-5, 5.562e-5, 6.562e-5, 7.562e-5, 8.377e-5], "range": ["#000000","#1a1a1a","#333333","#4d4d4d","#666666","#808080","#999999","#b3b3b3","#cccccc","#e6e6e6","#ffffff"]},
      "legend": {"type": "gradient", "title": "- uv(m/s)^2", "orient": "none", "legendX": 224, "legendY": 51, "direction": "vertical", "gradientLength": 190, "gradientThickness": 18, "gradientStrokeColor": "black", "gradientStrokeWidth": 1, "labelExpr": "isFinite(datum.value) ? replace(replace(format(datum.value, '.4~e'), 'e-', 'E-0'), '\u2212', '-') : ''", "labelFont": "Liberation Sans", "labelFontSize": 12, "labelColor": "black", "labelOffset": 9, "labelOverlap": false, "titleFont": "Liberation Sans", "titleFontSize": 12, "titleFontWeight": "normal", "titleColor": "black", "titleAnchor": "end", "titlePadding": -4}}
  },
  "layer": [
    {"data": {"name": "cb"}, "mark": {"type": "area", "clip": true}, "encoding": {"y2": {"datum": 100}, "detail": {"field": "c"}}},
    {"data": {"name": "cb"}, "transform": [{"filter": "datum.c != 'c00'"}], "mark": {"type": "line", "clip": true, "strokeWidth": 1}, "encoding": {"color": {"value": "black"}, "detail": {"field": "c"}}},
    {"data": {"name": "ib"}, "mark": {"type": "area", "clip": true, "stroke": "black", "strokeWidth": 1}, "encoding": {"y2": {"field": "y2"}, "detail": {"field": "i"}}},
    {"data": {"name": "sq"}, "mark": {"type": "rect", "filled": false, "strokeWidth": 2}, "encoding": {"x2": {"field": "x2"}, "y2": {"field": "y2"}, "color": {"value": "black"}}}
  ]
}
]
}
